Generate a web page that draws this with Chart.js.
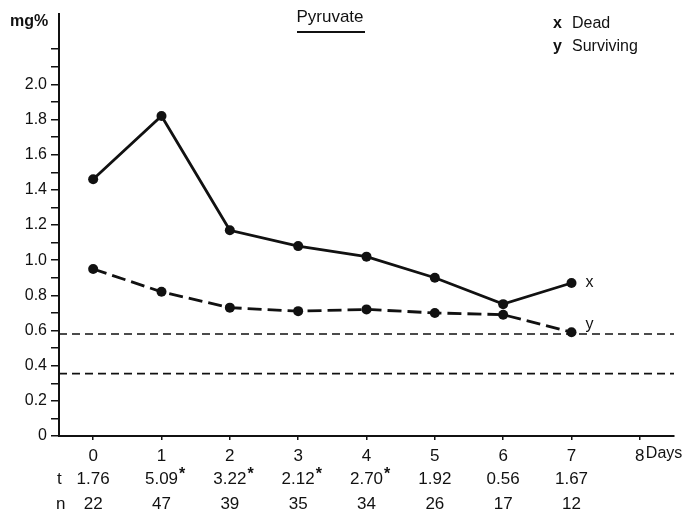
<!DOCTYPE html>
<html>
<head>
<meta charset="utf-8">
<title>Pyruvate</title>
<script src="https://cdn.jsdelivr.net/npm/chart.js@4.4.1/dist/chart.umd.min.js"></script>
<style>
  html, body { margin: 0; padding: 0; background: #fff; }
  #wrap { width: 688px; height: 516px; }
</style>
</head>
<body>
<div id="wrap"><canvas id="pyruvateChart" width="688" height="516"></canvas></div>
<script>
// Pyruvate (mg%) by day, dead vs surviving
const days = [0, 1, 2, 3, 4, 5, 6, 7];
const dead = [1.46, 1.82, 1.17, 1.08, 1.02, 0.90, 0.75, 0.87];
const surviving = [0.95, 0.82, 0.73, 0.71, 0.72, 0.70, 0.69, 0.59];
const normalRange = [0.58, 0.355];
const tValues = ['1.76', '5.09', '3.22', '2.12', '2.70', '1.92', '0.56', '1.67'];
const significant = [false, true, true, true, true, false, false, false];
const nValues = ['22', '47', '39', '35', '34', '26', '17', '12'];
const xTicks = [0, 1, 2, 3, 4, 5, 6, 7, 8];
const yTicks = [0, 0.1, 0.2, 0.3, 0.4, 0.5, 0.6, 0.7, 0.8, 0.9, 1.0, 1.1,
                1.2, 1.3, 1.4, 1.5, 1.6, 1.7, 1.8, 1.9, 2.0, 2.1, 2.2];

const FONT = "'Liberation Sans', Arial, sans-serif";
const INK = '#111';

const toPoints = (ys) => days.map((d, i) => ({ x: d, y: ys[i] }));

// titles, legend, t / n rows and end labels
const annotations = {
  id: 'annotations',
  afterDraw(chart) {
    const ctx = chart.ctx;
    const xs = chart.scales.x;
    ctx.save();
    ctx.fillStyle = INK;
    ctx.strokeStyle = INK;

    // unit label
    ctx.font = 'bold 16px ' + FONT;
    ctx.textAlign = 'left';
    ctx.textBaseline = 'alphabetic';
    ctx.fillText('mg%', 10, 26);

    // title with underline
    ctx.font = '17px ' + FONT;
    ctx.textAlign = 'center';
    ctx.fillText('Pyruvate', 330, 22);
    ctx.lineWidth = 2;
    ctx.beginPath();
    ctx.moveTo(297, 32);
    ctx.lineTo(365, 32);
    ctx.stroke();

    // legend
    ctx.textAlign = 'left';
    ctx.font = 'bold 16px ' + FONT;
    ctx.fillText('x', 553, 28);
    ctx.fillText('y', 553, 51);
    ctx.font = '16px ' + FONT;
    ctx.fillText('Dead', 572, 28);
    ctx.fillText('Surviving', 572, 51);

    // end labels next to the last points
    const deadEnd = chart.getDatasetMeta(0).data[days.length - 1];
    const survEnd = chart.getDatasetMeta(1).data[days.length - 1];
    ctx.textBaseline = 'middle';
    ctx.fillText('x', deadEnd.x + 14, deadEnd.y);
    ctx.fillText('y', survEnd.x + 14, survEnd.y - 8);

    // unit after the last x tick
    ctx.fillText('Days', xs.getPixelForValue(8) + 6, 454);

    // t and n rows
    ctx.font = '17px ' + FONT;
    ctx.fillText('t', 57, 479);
    ctx.fillText('n', 56, 504);
    ctx.textAlign = 'center';
    days.forEach((d, i) => {
      const px = xs.getPixelForValue(d);
      ctx.font = '17px ' + FONT;
      ctx.fillText(tValues[i], px, 479);
      ctx.fillText(nValues[i], px, 504);
      if (significant[i]) {
        const w = ctx.measureText(tValues[i]).width;
        ctx.font = 'bold 16px ' + FONT;
        ctx.textAlign = 'left';
        ctx.fillText('*', px + w / 2 + 1, 475);
        ctx.textAlign = 'center';
      }
    });
    ctx.restore();
  }
};

const ctx = document.getElementById('pyruvateChart').getContext('2d');
const pyruvateChart = new Chart(ctx, {
  type: 'line',
  data: {
    datasets: [
      {
        label: 'Dead',
        data: toPoints(dead),
        borderColor: INK,
        backgroundColor: INK,
        borderWidth: 2.8,
        pointRadius: 5,
        pointBackgroundColor: INK,
        pointBorderWidth: 0,
        tension: 0
      },
      {
        label: 'Surviving',
        data: toPoints(surviving),
        borderColor: INK,
        backgroundColor: INK,
        borderWidth: 2.8,
        borderDash: [14, 6],
        pointRadius: 5,
        pointBackgroundColor: INK,
        pointBorderWidth: 0,
        tension: 0
      },
      ...normalRange.map((v) => ({
        label: 'range',
        data: [{ x: -0.5, y: v }, { x: 8.5, y: v }],
        borderColor: INK,
        borderWidth: 1.6,
        borderDash: [8, 5],
        pointRadius: 0
      }))
    ]
  },
  options: {
    responsive: false,
    animation: false,
    layout: { padding: { top: 14, right: 14, left: 0, bottom: 0 } },
    plugins: {
      legend: { display: false },
      tooltip: { enabled: false },
      title: { display: false }
    },
    scales: {
      x: {
        type: 'linear',
        min: -0.5,
        max: 8.5,
        afterBuildTicks: (scale) => { scale.ticks = xTicks.map((v) => ({ value: v })); },
        afterFit: (scale) => { scale.height = 80; },
        border: { display: true, color: INK, width: 2 },
        grid: { drawOnChartArea: false, drawTicks: true, tickLength: 4, color: INK, lineWidth: 1.5 },
        ticks: {
          autoSkip: false,
          maxRotation: 0,
          padding: 6,
          color: INK,
          font: { family: FONT, size: 17 },
          callback: (v) => String(v)
        }
      },
      y: {
        min: 0,
        max: 2.4,
        afterBuildTicks: (scale) => { scale.ticks = yTicks.map((v) => ({ value: v })); },
        afterFit: (scale) => { scale.width = 59; },
        border: { display: true, color: INK, width: 2 },
        grid: { drawOnChartArea: false, drawTicks: true, tickLength: 8, color: INK, lineWidth: 1.5 },
        ticks: {
          autoSkip: false,
          padding: 4,
          color: INK,
          font: { family: FONT, size: 16 },
          callback: (v) => {
            const tenth = Math.round(v * 10);
            if (tenth % 2 !== 0 || tenth > 20) return '';
            return tenth === 0 ? '0' : (tenth / 10).toFixed(1);
          }
        }
      }
    }
  },
  plugins: [annotations]
});
</script>
</body>
</html>
